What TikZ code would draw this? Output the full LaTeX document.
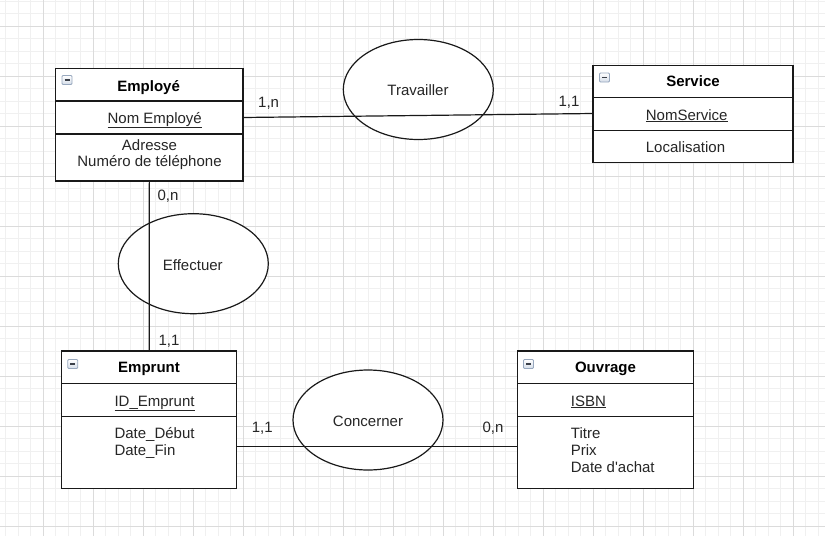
\documentclass[tikz,border=0pt]{standalone}
\usepackage{fontspec}
\setmainfont{Liberation Sans}
\usetikzlibrary{shapes.geometric}
\definecolor{iconborder}{HTML}{98A8BE}
\definecolor{iconfill}{HTML}{D4DCE8}
\definecolor{iconbar}{HTML}{3A3F48}
\newcommand{\straightquote}{\XeTeXglyph\XeTeXglyphindex "quotesingle"\relax}
\begin{document}
\begin{tikzpicture}[x=1pt,y=-1pt,
  minorgrid/.style={draw=black!6, line width=0.8pt},
  majorgrid/.style={draw=black!14, line width=0.8pt},
  entity/.style={draw=black!90, fill=white, line width=1.2pt, rectangle, inner sep=0pt},
  sepline/.style={draw=black!90, line width=1.2pt},
  relation/.style={draw=black!90, fill=white, line width=1.2pt, ellipse, inner sep=0pt, minimum width=150pt, minimum height=100pt},
  link/.style={draw=black!90, line width=1.2pt},
  txt/.style={font=\fontsize{15}{17}\selectfont, text=black!85, inner sep=0pt},
  ttl/.style={font=\fontsize{15}{17}\selectfont\bfseries, text=black, inner sep=0pt, anchor=base},
  icon/.style={draw=iconborder, line width=0.8pt, rounded corners=1pt, minimum width=10pt, minimum height=9pt, inner sep=0pt,
    top color=white, bottom color=iconfill,
    path picture={\draw[iconbar, line width=1.2pt] ([xshift=2.5pt]path picture bounding box.west) -- ([xshift=-2.5pt]path picture bounding box.east);}}
]
\useasboundingbox (0,0) rectangle (825,536);
\fill[white] (0,0) rectangle (825,536);
% grid
\foreach \i in {0,...,65} {\draw[minorgrid] ({5.8+12.5*\i},0) -- ({5.8+12.5*\i},536);}
\foreach \j in {0,...,42} {\draw[minorgrid] (0,{1+12.5*\j}) -- (825,{1+12.5*\j});}
\foreach \i in {0,...,15} {\draw[majorgrid] ({43.3+50*\i},0) -- ({43.3+50*\i},536);}
\foreach \j in {0,...,10} {\draw[majorgrid] (0,{26+50*\j}) -- (825,{26+50*\j});}

% relations
\node[relation] (trav) at (418.3,89.5) {};
\node[relation] (eff) at (193.3,263.7) {};
\node[relation] (conc) at (368,420) {};

% entities
\node[entity, minimum width=187.3pt, minimum height=112.7pt] (emp) at (149.35,124.65) {};
\node[entity, minimum width=200pt, minimum height=97.4pt] (serv) at (693,114) {};
\node[entity, minimum width=175pt, minimum height=137.3pt] (empr) at (149.2,419.65) {};
\node[entity, minimum width=175.6pt, minimum height=137.3pt] (ouv) at (605.5,419.65) {};

% separators
\draw[sepline] (emp.west |- 0,101) -- (emp.east |- 0,101);
\draw[draw=black!90, line width=2pt] (emp.west |- 0,133.7) -- (emp.east |- 0,133.7);
\draw[sepline] (serv.west |- 0,97.7) -- (serv.east |- 0,97.7);
\draw[sepline] (serv.west |- 0,130.3) -- (serv.east |- 0,130.3);
\draw[sepline] (empr.west |- 0,383.3) -- (empr.east |- 0,383.3);
\draw[sepline] (empr.west |- 0,416.3) -- (empr.east |- 0,416.3);
\draw[draw=black!90, line width=1.6pt] (ouv.west |- 0,383.3) -- (ouv.east |- 0,383.3);
\draw[sepline] (ouv.west |- 0,416.3) -- (ouv.east |- 0,416.3);

% icons
\node[icon] (empicon) at (67,80) {};
\node[icon] (servicon) at (604.5,77.5) {};
\node[icon] (emprcon) at (72.8,364) {};
\node[icon] (ouvicon) at (528.5,364) {};

% connectors
\coordinate (empR) at (243,117.5);
\coordinate (servL) at (593,113.5);
\draw[link] (empR) -- (servL);
\draw[link] (emp.south) -- (empr.north);
\coordinate (emprR) at (236.7,446.7);
\coordinate (ouvL) at (517.7,446.7);
\draw[link] (emprR) -- (ouvL);

% relation labels
\node[txt, anchor=base] (travt) at (418,95) {Travailler};
\node[txt, anchor=base] (efft) at (192.8,270) {Effectuer};
\node[txt, anchor=base] (conct) at (368,426) {Concerner};

% cardinalities
\node[txt, anchor=base west] (c1) at (258,107) {1,n};
\node[txt, anchor=base west] (c2) at (558.3,106.5) {1,1};
\node[txt, anchor=base west] (c3) at (157.3,200) {0,n};
\node[txt, anchor=base west] (c4) at (158.3,345) {1,1};
\node[txt, anchor=base west] (c5) at (251.7,432.7) {1,1};
\node[txt, anchor=base west] (c6) at (482.3,432.7) {0,n};

% Employé
\node[ttl] (empt) at (148.6,91) {Employé};
\node[txt, anchor=base] (empk) at (154.7,123) {\underline{Nom Employé}};
\node[txt, anchor=base] (empa1) at (149.5,150) {Adresse};
\node[txt, anchor=base] (empa2) at (149.5,166) {Numéro de téléphone};

% Service
\node[ttl] (servt) at (693,86.7) {Service};
\node[txt, anchor=base west] (servk) at (645.7,120) {\underline{NomService}};
\node[txt, anchor=base west] (serva1) at (645.7,152) {Localisation};

% Emprunt
\node[ttl] (emprt) at (149,372) {Emprunt};
\node[txt, anchor=base west] (emprk) at (114.3,406) {\underline{ID\_Emprunt}};
\node[txt, anchor=base west] (empra1) at (114.3,438.3) {Date\_Début};
\node[txt, anchor=base west] (empra2) at (114.3,455.5) {Date\_Fin};

% Ouvrage
\node[ttl] (ouvt) at (605.5,372) {Ouvrage};
\node[txt, anchor=base west] (ouvk) at (570.7,406) {\underline{ISBN}};
\node[txt, anchor=base west] (ouva1) at (570.7,438.3) {Titre};
\node[txt, anchor=base west] (ouva2) at (570.7,455.5) {Prix};
\node[txt, anchor=base west] (ouva3) at (570.7,472.5) {Date d\straightquote achat};
\end{tikzpicture}
\end{document}
